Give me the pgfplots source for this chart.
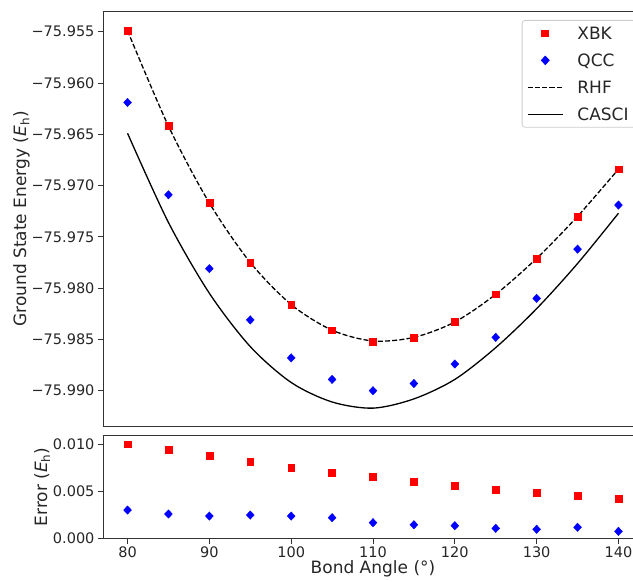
\documentclass[border=0pt]{standalone}
\usepackage{pgfplots}
\pgfplotsset{compat=1.18}
\usepackage{fontspec}
\setmainfont{DejaVu Sans}
\definecolor{spine}{gray}{0.2}
\begin{document}
\begin{tikzpicture}
\pgfplotsset{
  every axis/.append style={
    scale only axis,
    width=540pt,
    xmin=77, xmax=143,
    tick align=outside,
    tick pos=left,
    major tick length=5pt,
    axis line style={spine, line width=0.9pt},
    tick style={spine, line width=0.9pt},
    ticklabel style={font=\fontsize{14.5}{17}\selectfont, text=black!85},
    label style={font=\fontsize{17}{20}\selectfont, text=black!85},
    /pgf/number format/assume math mode=true,
    scaled y ticks=false,
    clip=true,
  },
  legend image code/.code={%
    \draw[mark repeat=2,mark phase=2,#1] plot coordinates {(0pt,0pt) (17.5pt,0pt) (35pt,0pt)};%
  },
}
\begin{axis}[
  name=top,
  height=415.7pt,
  ymin=-75.99351, ymax=-75.95298,
  xtick=\empty,
  ytick={-75.990,-75.985,-75.980,-75.975,-75.970,-75.965,-75.960,-75.955},
  yticklabels={−75.990,−75.985,−75.980,−75.975,−75.970,−75.965,−75.960,−75.955},
  ylabel={Ground State Energy (\textit{E}\textsubscript{h})},
  ylabel shift=-5pt,
  legend style={at={(1,1)}, anchor=north east, xshift=-7pt, yshift=-9pt,
    draw=black!20, line width=0.8pt, rounded corners=3pt,
    font=\fontsize{17}{20}\selectfont, text=black!85,
    inner xsep=5pt, inner ysep=4.5pt, row sep=10.1pt, column sep=12pt,
    nodes={inner sep=2pt, text height=12.4pt, text depth=0.5pt, anchor=west}},
  legend cell align=left,
]
\addplot[only marks, mark=square*, mark size=3.4pt, color=red, mark options={draw=red, fill=red}]
coordinates {
(80,-75.9549) (85,-75.9642) (90,-75.9717) (95,-75.9775) (100,-75.9816)
(105,-75.9841) (110,-75.9852) (115,-75.9848) (120,-75.9833) (125,-75.9806)
(130,-75.9771) (135,-75.9730) (140,-75.9684)
};
\addlegendentry{XBK}
\addplot[only marks, mark=diamond*, mark size=4.2pt, color=blue, mark options={draw=blue, fill=blue, xscale=1.25}]
coordinates {
(80,-75.9619) (85,-75.9709) (90,-75.9781) (95,-75.9831) (100,-75.9868)
(105,-75.9889) (110,-75.9900) (115,-75.9893) (120,-75.9874) (125,-75.9848)
(130,-75.9810) (135,-75.9762) (140,-75.9719)
};
\addlegendentry{QCC}
\addplot[black, line width=1.3pt, smooth, dash pattern=on 5pt off 2.2pt]
coordinates {
(80,-75.9549) (85,-75.9642) (90,-75.9717) (95,-75.9775) (100,-75.9816)
(105,-75.9841) (110,-75.98515) (115,-75.9848) (120,-75.9833) (125,-75.9806)
(130,-75.9771) (135,-75.9730) (140,-75.9684)
};
\addlegendentry{RHF}
\addplot[black, line width=1.3pt, smooth]
coordinates {
(80,-75.9649) (85,-75.9736) (90,-75.9805) (95,-75.9857) (100,-75.9892)
(105,-75.9911) (110,-75.9917) (115,-75.9908) (120,-75.9889) (125,-75.9858)
(130,-75.9820) (135,-75.9776) (140,-75.9727)
};
\addlegendentry{CASCI}
\end{axis}
\begin{axis}[
  name=bot,
  at={(top.south west)}, anchor=north west, yshift=-8.3pt,
  height=103.7pt,
  ymin=0, ymax=0.011,
  xtick={80,90,100,110,120,130,140},
  ytick={0,0.005,0.010},
  yticklabels={0.000,0.005,0.010},
  xlabel={Bond Angle (°)},
  xlabel shift=-4pt,
  ylabel={Error (\textit{E}\textsubscript{h})},
  ylabel shift=-4pt,
]
\addplot[only marks, mark=square*, mark size=3.4pt, color=red, mark options={draw=red, fill=red}]
coordinates {
(80,0.01003) (85,0.0094) (90,0.00879) (95,0.00816) (100,0.00756)
(105,0.00703) (110,0.00654) (115,0.00601) (120,0.00562) (125,0.00519)
(130,0.00487) (135,0.00456) (140,0.00428)
};
\addplot[only marks, mark=diamond*, mark size=4.2pt, color=blue, mark options={draw=blue, fill=blue, xscale=1.25}]
coordinates {
(80,0.00304) (85,0.00262) (90,0.0024) (95,0.00251) (100,0.0024)
(105,0.00223) (110,0.0017) (115,0.00148) (120,0.00138) (125,0.0011)
(130,0.0010) (135,0.00121) (140,0.00078)
};
\end{axis}
\pgfresetboundingbox
\path[use as bounding box] ([xshift=-103pt,yshift=11pt]top.north west) rectangle ([xshift=-10pt,yshift=-41.3pt]bot.south east);
\end{tikzpicture}
\end{document}
